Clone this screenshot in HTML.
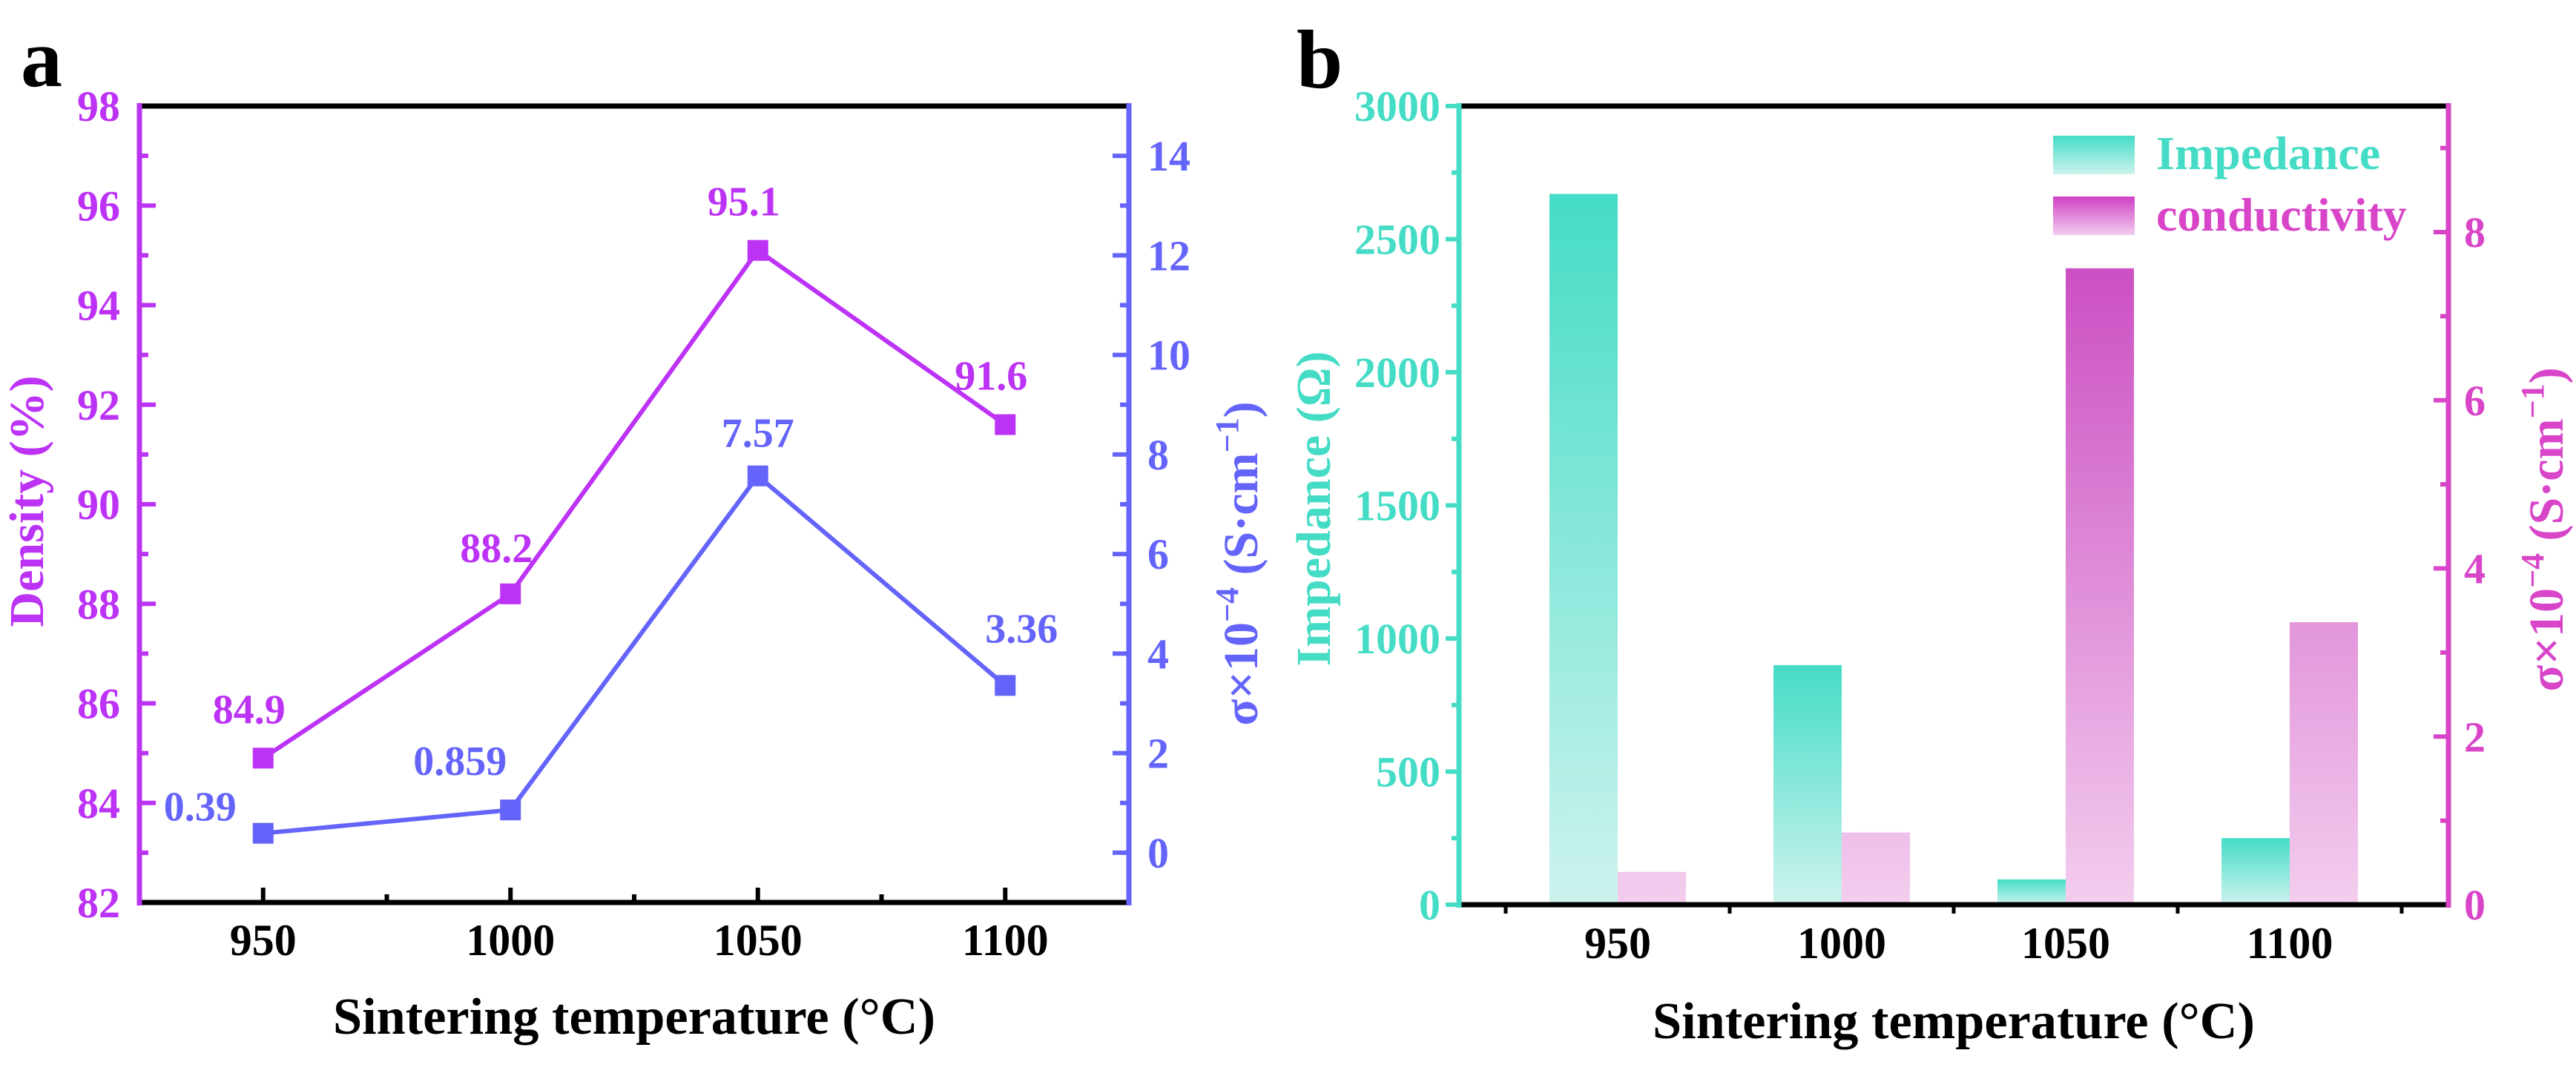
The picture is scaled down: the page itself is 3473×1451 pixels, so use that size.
<!DOCTYPE html>
<html><head><meta charset="utf-8"><style>
html,body{margin:0;padding:0;background:#fff;}
svg{display:block;font-family:"Liberation Serif",serif;font-weight:bold;}
</style></head><body>
<svg id="fig" width="3473" height="1451" viewBox="0 0 3473 1451" xmlns="http://www.w3.org/2000/svg">
<defs>
<linearGradient id="gImp" x1="0" y1="0" x2="0" y2="1"><stop offset="0" stop-color="#45DCC6"/><stop offset="1" stop-color="#CDF3EE"/></linearGradient>
<linearGradient id="gCon" gradientUnits="userSpaceOnUse" x1="0" y1="143" x2="0" y2="1217"><stop offset="0" stop-color="#C22FB8"/><stop offset="1" stop-color="#F3CDEE"/></linearGradient>
<linearGradient id="gConL" x1="0" y1="0" x2="0" y2="1"><stop offset="0" stop-color="#D040C4"/><stop offset="1" stop-color="#F2CDEE"/></linearGradient>
</defs>
<g id="pa"></g>
<g id="pb"></g>
</svg>
<script>
// Panel a data
const tempsA = [950, 1000, 1050, 1100];
const density = [84.9, 88.2, 95.1, 91.6];
const densityLabels = ["84.9", "88.2", "95.1", "91.6"];
const sigmaA = [0.39, 0.859, 7.57, 3.36];
const sigmaLabels = ["0.39", "0.859", "7.57", "3.36"];
const densTicks = [82, 84, 86, 88, 90, 92, 94, 96, 98];
const sigTicksA = [0, 2, 4, 6, 8, 10, 12, 14];
// Panel b data
const catsB = ["950", "1000", "1050", "1100"];
const impedance = [2670, 900, 95, 250];
const conductivity = [0.39, 0.859, 7.57, 3.36];
const impTicks = [0, 500, 1000, 1500, 2000, 2500, 3000];
const conTicks = [0, 2, 4, 6, 8];

const NS = "http://www.w3.org/2000/svg";
function mk(parent, tag, attrs, text) {
  const e = document.createElementNS(NS, tag);
  for (const k in attrs) e.setAttribute(k, attrs[k]);
  if (text !== undefined) e.textContent = text;
  parent.appendChild(e);
  return e;
}
const PURP = "#BC33F5", BLUE = "#6464FA", TEAL = "#45DCC6", PINK = "#D845C8";

// ---------- Panel A ----------
const pa = document.getElementById("pa");
const aL = 188, aR = 1522, aT = 143, aB = 1217;
const xA = v => aL + (v - 925) / 200 * (aR - aL);
const yD = v => aB - (v - 82) / 16 * (aB - aT);
const yS = v => aB - (v + 1) / 16 * (aB - aT);

let t = mk(pa, "text", {x: 28, y: 116, "font-size": 112, fill: "#000"}, "a");



// minor ticks left/right
for (let v = 83; v < 98; v += 2) {
  const l = mk(pa, "line", {x1: aL, x2: aL + 12, y1: yD(v), y2: yD(v), stroke: PURP, "stroke-width": 6});
  
  
}
densTicks.forEach(v => {
  const l = mk(pa, "line", {x1: aL, x2: aL + 22, y1: yD(v), y2: yD(v), stroke: PURP, "stroke-width": 6});
  
  
  const tx = mk(pa, "text", {x: 162, y: yD(v) + 20, "font-size": 58, fill: PURP, "text-anchor": "end"}, String(v));
  
  
});
for (let v = -1; v < 15; v += 2) {
  if (v < 0) continue;
  const l = mk(pa, "line", {x1: aR, x2: aR - 12, y1: yS(v), y2: yS(v), stroke: BLUE, "stroke-width": 6});
  
  
}
sigTicksA.forEach(v => {
  const l = mk(pa, "line", {x1: aR, x2: aR - 22, y1: yS(v), y2: yS(v), stroke: BLUE, "stroke-width": 6});
  
  
  const tx = mk(pa, "text", {x: 1547, y: yS(v) + 20, "font-size": 58, fill: BLUE}, String(v));
  
  
});
tempsA.forEach(v => {
  const l = mk(pa, "line", {x1: xA(v), x2: xA(v), y1: aB, y2: aB - 20, stroke: "#000", "stroke-width": 6});
  
  
  const tx = mk(pa, "text", {x: xA(v), y: 1288, "font-size": 60, fill: "#000", "text-anchor": "middle"}, String(v));
  
  
});
[975, 1025, 1075].forEach(v => {
  const l = mk(pa, "line", {x1: xA(v), x2: xA(v), y1: aB, y2: aB - 11, stroke: "#000", "stroke-width": 6});
  
  
});
let ax = mk(pa, "line", {x1: aL, x2: aR, y1: aT, y2: aT, stroke: "#000", "stroke-width": 7});


ax = mk(pa, "line", {x1: aL, x2: aR, y1: aB, y2: aB, stroke: "#000", "stroke-width": 7});


ax = mk(pa, "line", {x1: aL, x2: aL, y1: aT - 4, y2: aB + 4, stroke: PURP, "stroke-width": 7});


ax = mk(pa, "line", {x1: aR, x2: aR, y1: aT - 4, y2: aB + 4, stroke: BLUE, "stroke-width": 7});



// series lines
let pl = mk(pa, "polyline", {points: tempsA.map((v, i) => xA(v) + "," + yD(density[i])).join(" "), fill: "none", stroke: PURP, "stroke-width": 6});


pl = mk(pa, "polyline", {points: tempsA.map((v, i) => xA(v) + "," + yS(sigmaA[i])).join(" "), fill: "none", stroke: BLUE, "stroke-width": 6});


const dOff = [[-19, -47], [-19, -43], [-19, -47], [-19, -47]];
const sOff = [[-85, -17], [-68, -47], [0, -39], [22, -58]];
tempsA.forEach((v, i) => {
  let m = mk(pa, "rect", {x: xA(v) - 14, y: yD(density[i]) - 14, width: 28, height: 28, fill: PURP});
  
  
  let tx = mk(pa, "text", {x: xA(v) + dOff[i][0], y: yD(density[i]) + dOff[i][1], "font-size": 56, fill: PURP, "text-anchor": "middle"}, densityLabels[i]);
  
  
  m = mk(pa, "rect", {x: xA(v) - 14, y: yS(sigmaA[i]) - 14, width: 28, height: 28, fill: BLUE});
  
  
  tx = mk(pa, "text", {x: xA(v) + sOff[i][0], y: yS(sigmaA[i]) + sOff[i][1], "font-size": 56, fill: BLUE, "text-anchor": "middle"}, sigmaLabels[i]);
  
  
});
t = mk(pa, "text", {x: 0, y: 0, "font-size": 66, fill: PURP, "text-anchor": "middle", transform: "translate(58,676) rotate(-90)"}, "Density (%)");


t = mk(pa, "text", {x: 0, y: 0, "font-size": 66, fill: BLUE, "text-anchor": "middle", transform: "translate(1695,760) rotate(-90)"});
t.innerHTML = 'σ×10<tspan font-size="44" dy="-26">−4</tspan><tspan dy="26"> (S·cm</tspan><tspan font-size="44" dy="-26">−1</tspan><tspan dy="26">)</tspan>';


t = mk(pa, "text", {x: 855, y: 1394, "font-size": 70, fill: "#000", "text-anchor": "middle", textLength: 812, lengthAdjust: "spacingAndGlyphs"}, "Sintering temperature (°C)");



// ---------- Panel B ----------
const pb = document.getElementById("pb");
const bL = 1967, bR = 3301, bT = 143, bB = 1220;
const step = 302, x0 = 2181;
const xB = i => x0 + i * step;
const yI = v => bB - v / 3000 * (bB - bT);
const yC = v => bB - v / 9.5 * (bB - bT);
const bw = 92;

t = mk(pb, "text", {x: 1748, y: 118, "font-size": 112, fill: "#000"}, "b");



catsB.forEach((c, i) => {
  let r = mk(pb, "rect", {x: xB(i) - bw, y: yI(impedance[i]), width: bw, height: bB - yI(impedance[i]), fill: "url(#gImp)"});
  
  
  r = mk(pb, "rect", {x: xB(i), y: yC(conductivity[i]), width: bw, height: bB - yC(conductivity[i]), fill: "url(#gCon)"});
  
  
  const tx = mk(pb, "text", {x: xB(i), y: 1292, "font-size": 60, fill: "#000", "text-anchor": "middle"}, c);
  
  
});
for (let i = -1; i < 4; i++) {
  const l = mk(pb, "line", {x1: xB(i) + step / 2, x2: xB(i) + step / 2, y1: bB, y2: bB + 12, stroke: "#000", "stroke-width": 5});
  
  
}
impTicks.forEach(v => {
  const l = mk(pb, "line", {x1: bL, x2: bL - 18, y1: yI(v), y2: yI(v), stroke: TEAL, "stroke-width": 6});
  
  
  const tx = mk(pb, "text", {x: 1942, y: yI(v) + 20, "font-size": 58, fill: TEAL, "text-anchor": "end"}, String(v));
  
  
});
for (let v = 250; v < 3000; v += 500) {
  const l = mk(pb, "line", {x1: bL, x2: bL - 10, y1: yI(v), y2: yI(v), stroke: TEAL, "stroke-width": 6});
  
  
}
conTicks.forEach(v => {
  const l = mk(pb, "line", {x1: bR, x2: bR - 20, y1: yC(v), y2: yC(v), stroke: PINK, "stroke-width": 6});
  
  
  const tx = mk(pb, "text", {x: 3322, y: yC(v) + 20, "font-size": 58, fill: PINK}, String(v));
  
  
});
for (let v = 1; v < 9.5; v += 2) {
  const l = mk(pb, "line", {x1: bR, x2: bR - 11, y1: yC(v), y2: yC(v), stroke: PINK, "stroke-width": 6});
  
  
}
ax = mk(pb, "line", {x1: bL, x2: bR, y1: bT, y2: bT, stroke: "#000", "stroke-width": 7});


ax = mk(pb, "line", {x1: bL, x2: bR, y1: bB, y2: bB, stroke: "#000", "stroke-width": 7});


ax = mk(pb, "line", {x1: bL, x2: bL, y1: bT - 4, y2: bB + 4, stroke: TEAL, "stroke-width": 7});


ax = mk(pb, "line", {x1: bR, x2: bR, y1: bT - 4, y2: bB + 4, stroke: PINK, "stroke-width": 7});



// legend
let lg = mk(pb, "rect", {x: 2768, y: 183, width: 110, height: 52, fill: "url(#gImp)"});


lg = mk(pb, "text", {x: 2907, y: 228, "font-size": 64, fill: TEAL}, "Impedance");


lg = mk(pb, "rect", {x: 2768, y: 265, width: 110, height: 52, fill: "url(#gConL)"});


lg = mk(pb, "text", {x: 2907, y: 311, "font-size": 64, fill: PINK}, "conductivity");



t = mk(pb, "text", {x: 0, y: 0, "font-size": 66, fill: TEAL, "text-anchor": "middle", transform: "translate(1793,686) rotate(-90)"}, "Impedance (Ω)");


t = mk(pb, "text", {x: 0, y: 0, "font-size": 66, fill: PINK, "text-anchor": "middle", transform: "translate(3455,714) rotate(-90)"});
t.innerHTML = 'σ×10<tspan font-size="44" dy="-26">−4</tspan><tspan dy="26"> (S·cm</tspan><tspan font-size="44" dy="-26">−1</tspan><tspan dy="26">)</tspan>';


t = mk(pb, "text", {x: 2634, y: 1400, "font-size": 70, fill: "#000", "text-anchor": "middle", textLength: 812, lengthAdjust: "spacingAndGlyphs"}, "Sintering temperature (°C)");


</script>
</body></html>
